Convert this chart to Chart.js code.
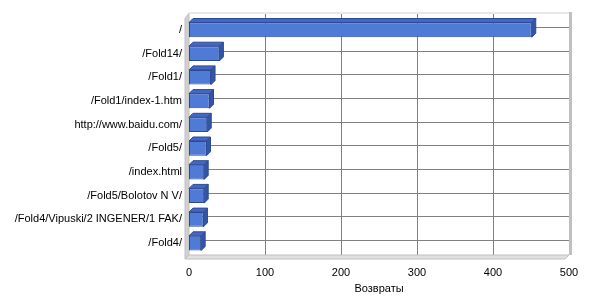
<!DOCTYPE html>
<html>
<head>
<meta charset="utf-8">
<script src="https://cdn.jsdelivr.net/npm/chart.js@4"></script>
<style>
  html, body { margin: 0; padding: 0; background: #fff; }
  #wrap { width: 600px; height: 300px; }
</style>
</head>
<body>
<div id="wrap"><canvas id="chart" width="600" height="300"></canvas></div>
<script>
  // данные
  const categories = [
    '/', '/Fold14/', '/Fold1/', '/Fold1/index-1.htm', 'http://www.baidu.com/',
    '/Fold5/', '/index.html', '/Fold5/Bolotov N V/', '/Fold4/Vipuski/2 INGENER/1 FAK/', '/Fold4/'
  ];
  const returnsValues = [451, 40, 29, 27, 24, 23, 20, 20, 19, 16];
  const axisMax = 500;
  const axisStep = 100;
  const axisTitle = 'Возвраты';

  const DEPTH = 4;
  const FONT = { family: 'Liberation Sans, Arial, sans-serif', size: 11 };

  // псевдо-3D: задняя стенка с сеткой, левая стенка, пол, грани столбиков
  const wallsPlugin = {
    id: 'walls',
    beforeDatasetsDraw(chart) {
      const { ctx, chartArea: a, scales } = chart;
      const d = DEPTH;
      const backTop = a.top - d;
      ctx.save();
      ctx.lineWidth = 1;

      // сетка на задней стенке
      ctx.strokeStyle = '#808080';
      ctx.beginPath();
      scales.x.ticks.forEach((t, i) => {
        if (i === 0) return;
        const x = Math.round(scales.x.getPixelForTick(i)) + 0.5;
        ctx.moveTo(x, backTop);
        ctx.lineTo(x, a.bottom);
      });
      scales.y.ticks.forEach((t, i) => {
        const y = Math.round(scales.y.getPixelForTick(i) - 3) + 0.5;
        ctx.moveTo(a.left, y);
        ctx.lineTo(a.right, y);
      });
      ctx.stroke();

      // левая стенка
      ctx.fillStyle = '#d0d0d0';
      ctx.strokeStyle = '#c0c0c0';
      ctx.beginPath();
      ctx.moveTo(a.left - d, a.top);
      ctx.lineTo(a.left, backTop);
      ctx.lineTo(a.left, a.bottom);
      ctx.lineTo(a.left - d, a.bottom + d);
      ctx.closePath();
      ctx.fill();
      ctx.stroke();

      // пол
      ctx.fillStyle = '#e0e0e0';
      ctx.beginPath();
      ctx.moveTo(a.left - d, a.bottom + d);
      ctx.lineTo(a.left, a.bottom);
      ctx.lineTo(a.right, a.bottom);
      ctx.lineTo(a.right - d, a.bottom + d);
      ctx.closePath();
      ctx.fill();
      ctx.stroke();

      // верхняя и правая кромки
      ctx.strokeStyle = '#d0d0d0';
      ctx.beginPath();
      ctx.moveTo(a.left - d, a.top);
      ctx.lineTo(a.left, backTop - 1);
      ctx.lineTo(a.right, backTop - 1);
      ctx.stroke();
      ctx.fillStyle = '#c0c0c0';
      ctx.fillRect(a.right, backTop - 2, 3, a.bottom - backTop + 2);
      ctx.restore();
    },
    afterDatasetsDraw(chart) {
      const { ctx } = chart;
      const d = DEPTH;
      ctx.save();
      chart.getDatasetMeta(0).data.forEach((el) => {
        const p = el.getProps(['x', 'y', 'base', 'height'], true);
        const top = p.y - p.height / 2;
        const bot = p.y + p.height / 2;
        ctx.lineWidth = 1;
        ctx.strokeStyle = '#2d4a94';
        // верхняя грань
        ctx.fillStyle = '#4467c2';
        ctx.beginPath();
        ctx.moveTo(p.base, top);
        ctx.lineTo(p.base + d, top - d);
        ctx.lineTo(p.x + d, top - d);
        ctx.lineTo(p.x, top);
        ctx.closePath();
        ctx.fill();
        ctx.stroke();
        // боковая грань
        ctx.fillStyle = '#3455a6';
        ctx.beginPath();
        ctx.moveTo(p.x, top);
        ctx.lineTo(p.x + d, top - d);
        ctx.lineTo(p.x + d, bot - d);
        ctx.lineTo(p.x, bot);
        ctx.closePath();
        ctx.fill();
        ctx.stroke();
      });
      ctx.restore();
    }
  };

  new Chart(document.getElementById('chart'), {
    type: 'bar',
    data: {
      labels: categories,
      datasets: [{
        data: returnsValues,
        backgroundColor: '#4f7bd7',
        borderColor: '#2d4a94',
        borderWidth: 1,
        borderSkipped: false,
        categoryPercentage: 1,
        barPercentage: 0.62
      }]
    },
    options: {
      indexAxis: 'y',
      responsive: false,
      animation: false,
      layout: { padding: { top: 18, right: 31, left: 0, bottom: 0 } },
      plugins: {
        legend: { display: false },
        tooltip: { enabled: false }
      },
      scales: {
        x: {
          min: 0,
          max: axisMax,
          ticks: { stepSize: axisStep, color: '#000', font: FONT, padding: 11 },
          grid: { display: false, drawTicks: false },
          border: { display: false },
          title: { display: true, text: axisTitle, color: '#000', font: FONT, padding: { top: 4, bottom: 4 } },
          afterFit(scale) { scale.height = 45; }
        },
        y: {
          ticks: { color: '#000', font: FONT, padding: 7, autoSkip: false },
          grid: { display: false, drawTicks: false },
          border: { display: false },
          afterFit(scale) { scale.width = 189; }
        }
      }
    },
    plugins: [wallsPlugin]
  });
</script>
</body>
</html>
